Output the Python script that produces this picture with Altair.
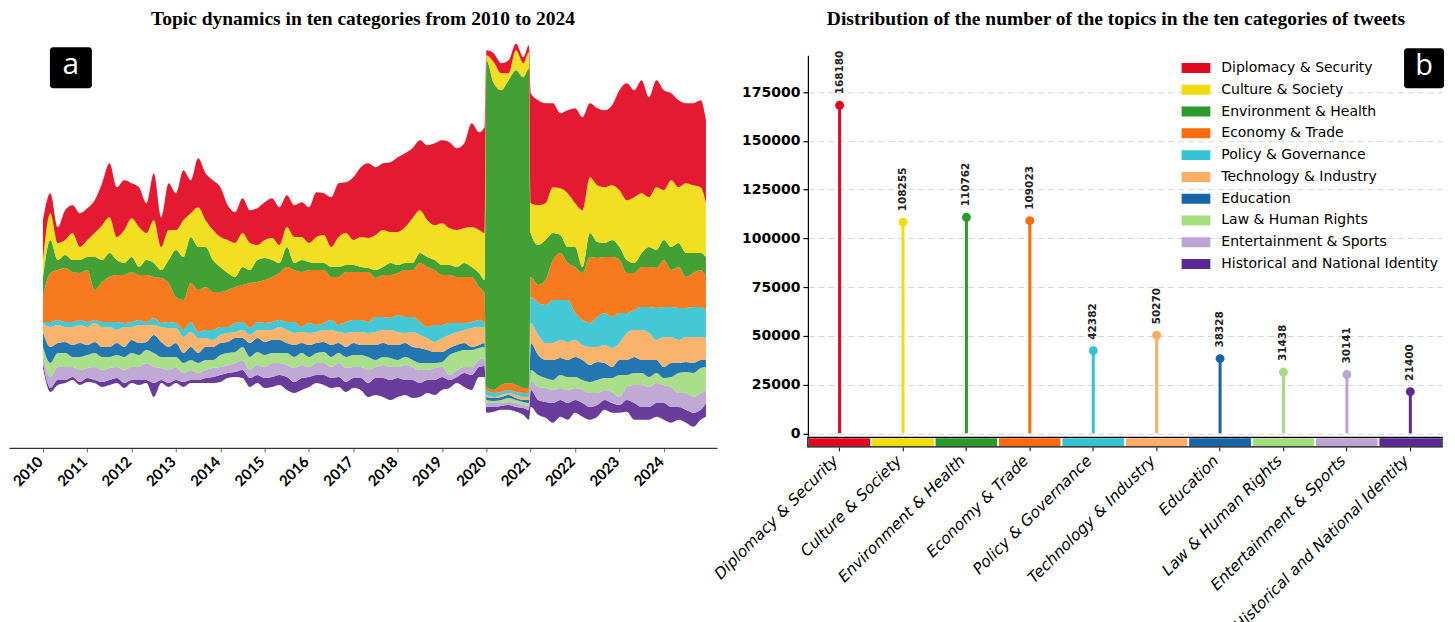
import altair as alt
import pandas as pd

# ---------------- panel (a): topic stream, bimonthly samples ----------------
YEARS = list(range(2010, 2025))
SAMPLE_MONTHS = [1, 3, 5, 7, 9, 11]

# (year, month) of every sample; two late-December samples bracket the 2020 surge
SAMPLES = [(y, m) for y in YEARS for m in SAMPLE_MONTHS]
SAMPLES.insert(SAMPLES.index((2020, 1)), (2019, 12.5))
SAMPLES.insert(SAMPLES.index((2021, 1)), (2020, 12.5))
SAMPLES.append((2024, 12.4))

# lower edge of the stream (wiggle baseline), same units as the series
STREAM_BASE = [80, 56, 63, 65, 68, 63,  66, 65, 61, 63, 65, 60,  65, 63, 65, 51, 65, 61,
               65, 61, 65, 65, 65, 65,  66, 70, 71, 70, 61, 65,  60, 61, 63, 58, 55, 58,
               61, 65, 63, 60, 61, 56,  60, 58, 51, 53, 51, 48,  51, 53, 50, 51, 55, 53,
               58, 60, 65, 61, 58, 71, 71,  35, 36, 38, 38, 36, 33, 28,
               41, 33, 30, 25, 31, 28,  35, 31, 28, 31, 38, 35,  35, 36, 28, 28, 28, 31,
               28, 25, 28, 25, 21, 28, 31]

DIPLOMACY = [40, 20, 16, 30, 28, 34,  32, 33, 42, 54, 50, 50,  35, 40, 30, 47, 30, 47,
             37, 50, 33, 49, 47, 50,  50, 35, 31, 35, 33, 37,  38, 40, 38, 32, 32, 35,
             36, 45, 42, 50, 54, 51,  63, 70, 75, 68, 67, 70,  75, 74, 70, 70, 75, 82,
             83, 86, 82, 85, 104, 98, 106,  5, 9, 10, 13, 7, 6, 7,
             110, 105, 100, 84, 75, 83,  95, 93, 74, 77, 77, 80,  100, 117, 107, 113, 100, 107,
             100, 87, 87, 80, 82, 87, 83]
CULTURE = [17, 27, 17, 15, 27, 13,  17, 24, 35, 36, 23, 33,  39, 40, 27, 43, 23, 30,
           20, 37, 24, 40, 27, 30,  30, 33, 34, 34, 27, 15,  18, 22, 18, 20, 26, 23,
           19, 26, 28, 20, 30, 32,  25, 30, 30, 35, 37, 31,  33, 36, 45, 43, 37, 35,
           42, 37, 37, 35, 40, 43, 47,  5, 21, 17, 7, 20, 14, 16,
           30, 40, 37, 46, 47, 54,  44, 57, 56, 57, 56, 55,  57, 60, 66, 60, 50, 63,
           50, 67, 56, 70, 68, 66, 54]
ENVIRONMENT = [20, 33, 10, 13, 12, 13,  13, 33, 22, 24, 15, 12,  15, 8, 15, 14, 8, 23,
               47, 43, 46, 43, 40, 32,  25, 17, 10, 18, 13, 22,  22, 17, 10, 20, 7, 12,
               8, 7, 7, 10, 10, 7,  7, 5, 4, 8, 8, 12,  8, 7, 7, 10, 10, 10,
               10, 10, 10, 14, 10, 14, 13,  327, 307, 295, 303, 315, 311, 320,
               44, 40, 40, 27, 18, 16,  20, 6, 24, 16, 14, 17,  13, 13, 10, 14, 20, 18,
               20, 23, 24, 24, 20, 17, 20]
ECONOMY = [25, 49, 50, 54, 50, 47,  52, 30, 40, 45, 47, 48,  50, 45, 47, 41, 45, 39,
           26, 30, 39, 42, 43, 38,  35, 37, 36, 37, 45, 40,  43, 45, 47, 55, 52, 55,
           53, 55, 53, 43, 48, 50,  48, 48, 50, 39, 42, 43,  42, 47, 47, 59, 60, 55,
           50, 48, 46, 46, 45, 33, 30,  3, 3, 7, 7, 7, 5, 5,
           20, 18, 25, 40, 47, 37,  46, 47, 66, 59, 56, 60,  53, 40, 37, 40, 40, 40,
           47, 37, 41, 31, 34, 37, 33]
POLICY = [1, 5, 5, 5, 5, 5,  5, 3, 5, 5, 8, 4,  5, 5, 3, 7, 4, 6,
          5, 7, 10, 6, 8, 10,  8, 6, 9, 8, 7, 8,  7, 8, 7, 8, 11, 5,
          10, 7, 7, 10, 7, 11,  12, 12, 11, 15, 13, 12,  17, 16, 15, 13, 11, 17,
          13, 12, 9, 7, 6, 7, 4,  5, 4, 3, 3, 3, 4, 4,
          26, 32, 38, 43, 40, 42,  27, 25, 24, 30, 32, 31,  30, 20, 20, 23, 26, 32,
          30, 30, 32, 29, 30, 30, 28]
TECHNOLOGY = [9, 20, 18, 15, 18, 18,  18, 19, 20, 20, 13, 20,  13, 18, 17, 10, 15, 19,
              15, 16, 15, 15, 9, 7,  8, 9, 6, 8, 8, 8,  12, 10, 13, 13, 12, 11,
              12, 11, 12, 15, 11, 14,  11, 13, 12, 13, 13, 15,  13, 10, 15, 13, 12, 10,
              14, 13, 13, 13, 19, 18, 16,  2, 1, 2, 2, 3, 3, 3,
              20, 20, 17, 17, 18, 18,  17, 15, 18, 15, 18, 19,  17, 27, 27, 30, 27, 20,
              30, 26, 23, 25, 26, 23, 22]
EDUCATION = [15, 16, 10, 11, 12, 14,  10, 11, 10, 10, 12, 10,  13, 12, 8, 18, 15, 10,
             14, 10, 13, 10, 13, 13,  12, 11, 14, 9, 14, 14,  13, 13, 13, 10, 12, 10,
             12, 10, 10, 12, 10, 10,  12, 10, 12, 15, 14, 13,  15, 14, 13, 15, 13, 11,
             10, 7, 7, 7, 3, 3, 4,  3, 3, 3, 3, 2, 2, 3,
             27, 20, 18, 20, 17, 17,  20, 20, 17, 18, 15, 11,  15, 15, 16, 13, 17, 13,
             11, 14, 10, 10, 10, 8, 7]
LAW = [8, 14, 14, 14, 10, 13,  13, 14, 13, 11, 12, 13,  14, 12, 13, 14, 11, 13,
       10, 10, 10, 10, 10, 8,  12, 12, 11, 13, 13, 13,  12, 10, 10, 12, 11, 12,
       10, 10, 11, 10, 10, 11,  12, 12, 13, 7, 8, 9,  7, 8, 7, 7, 7, 5,
       5, 20, 18, 17, 17, 12, 11,  3, 2, 3, 4, 3, 3, 3,
       10, 12, 10, 10, 13, 13,  11, 10, 11, 13, 12, 14,  22, 12, 12, 12, 10, 10,
       7, 10, 20, 21, 24, 25, 23]
ENTERTAINMENT = [8, 11, 13, 13, 10, 12,  10, 13, 12, 12, 11, 13,  13, 13, 17, 16, 12, 13,
                 13, 9, 10, 7, 8, 9,  8, 8, 9, 10, 8, 10,  11, 14, 12, 12, 14, 13,
                 10, 12, 12, 11, 14, 14,  11, 11, 13, 11, 13, 13,  11, 15, 13, 13, 10, 12,
                 10, 5, 7, 6, 8, 7, 8,  4, 4, 3, 3, 4, 3, 4,
                 10, 13, 14, 13, 12, 13,  12, 13, 14, 12, 10, 11,  8, 13, 18, 22, 20, 20,
                 18, 20, 14, 17, 16, 17, 13]
HISTORICAL = [5, 4, 5, 3, 3, 3,  4, 3, 5, 5, 5, 5,  3, 5, 3, 14, 3, 4,
              3, 5, 3, 3, 5, 6,  7, 5, 5, 8, 9, 8,  10, 10, 10, 13, 11, 12,
              10, 8, 10, 10, 10, 10,  10, 12, 14, 17, 19, 20,  19, 15, 18, 14, 13, 15,
              13, 8, 6, 14, 15, 10, 11,  6, 5, 4, 5, 5, 7, 10,
              17, 15, 16, 20, 17, 17,  13, 14, 13, 12, 10, 10,  8, 12, 17, 13, 13, 14,
              17, 16, 13, 13, 14, 10, 14]

# ---------------- panel (b): topic totals per category ----------------
CATEGORIES = ["Diplomacy & Security", "Culture & Society", "Environment & Health",
              "Economy & Trade", "Policy & Governance", "Technology & Industry",
              "Education", "Law & Human Rights", "Entertainment & Sports",
              "Historical and National Identity"]
TOTALS = [168180, 108255, 110762, 109023, 42382, 50270, 38328, 31438, 30141, 21400]
Y_TICKS = [0, 25000, 50000, 75000, 100000, 125000, 150000, 175000]

BAR_COLORS = ["#e2071f", "#f0dc0f", "#2b9a2b", "#fb6b0c", "#33c3d3",
              "#fcae66", "#1565a8", "#a3df7c", "#bca5d5", "#5a2894"]
STREAM_COLORS = ["#e31a32", "#f2df21", "#43a034", "#f77b1e", "#45c8d6",
                 "#f9b36d", "#2376b0", "#a9df88", "#c0aad5", "#693c9c"]

SERIES = [DIPLOMACY, CULTURE, ENVIRONMENT, ECONOMY, POLICY,
          TECHNOLOGY, EDUCATION, LAW, ENTERTAINMENT, HISTORICAL]

# long table for the stacked stream: invisible baseline first, then bottom -> top
LAYERS = ["baseline"] + CATEGORIES[::-1]
rows = []
for i, (yr, mo) in enumerate(SAMPLES):
    t = yr + (mo - 1) / 12
    rows.append({"t": t, "layer": "baseline", "rank": 0, "volume": STREAM_BASE[i]})
    for r, cat in enumerate(CATEGORIES[::-1], start=1):
        vals = SERIES[CATEGORIES.index(cat)]
        rows.append({"t": t, "layer": cat, "rank": r, "volume": vals[i]})
stream_df = pd.DataFrame(rows)

stream = alt.Chart(stream_df).mark_area(interpolate="monotone").encode(
    x=alt.X("t:Q",
            scale=alt.Scale(domain=[2009.234, 2025.2], nice=False, zero=False),
            axis=alt.Axis(values=YEARS, format="d", title=None, grid=False,
                          labelAngle=-45, labelAlign="right", labelBaseline="top",
                          labelFont="Lato", labelFontWeight="bold", labelFontSize=15,
                          labelColor="black", labelPadding=2, labelOffset=-8,
                          domainColor="#333333", domainWidth=1.2,
                          tickColor="#666666", tickSize=4)),
    y=alt.Y("volume:Q", stack="zero",
            scale=alt.Scale(domain=[0, 393], nice=False, zero=False), axis=None),
    color=alt.Color("layer:N", sort=LAYERS,
                    scale=alt.Scale(domain=LAYERS,
                                    range=["rgba(0,0,0,0)"] + STREAM_COLORS[::-1]),
                    legend=None),
    order=alt.Order("rank:Q", sort="ascending"),
)

tag_a = alt.Chart(pd.DataFrame({"tag": ["a"]}))
tag_a_box = tag_a.mark_rect(color="black", cornerRadius=3).encode(
    x=alt.value(41), x2=alt.value(83), y=alt.value(-8), y2=alt.value(33))
tag_a_text = tag_a.mark_text(color="white", font="Open Sans", fontSize=30,
                             align="center", baseline="middle").encode(
    x=alt.value(62), y=alt.value(10), text="tag:N")

panel_a = alt.layer(stream, tag_a_box, tag_a_text).properties(
    width=709, height=393,
    title=alt.TitleParams("Topic dynamics in ten categories from 2010 to 2024",
                          font="Liberation Serif", fontSize=19.5, fontWeight="bold",
                          color="black", anchor="middle", frame="group",
                          baseline="alphabetic", offset=1, dy=2.5),
)

# ---------------- lollipop panel ----------------
STRIP_TOP = -2050
STRIP_BOTTOM = -6900

totals_df = pd.DataFrame({"category": CATEGORIES, "total": TOTALS})
base_b = alt.Chart(totals_df)

xb = alt.X("category:N", sort=CATEGORIES,
           scale=alt.Scale(paddingInner=0, paddingOuter=0),
           axis=alt.Axis(title=None, domain=False, tickColor="black", tickSize=4,
                         labelAngle=-45, labelAlign="right", labelBaseline="top",
                         labelFont="DejaVu Sans", labelFontStyle="italic",
                         labelFontSize=15.5, labelColor="black", labelLimit=400,
                         labelPadding=2, labelOffset=-9))
yb_scale = alt.Scale(domain=[STRIP_BOTTOM, 193800], nice=False, zero=False)
yb_axis = alt.Axis(values=Y_TICKS, format="d", title=None,
                   labelFont="DejaVu Sans", labelFontSize=14, labelFontWeight="bold",
                   labelColor="black", labelPadding=3,
                   tickColor="black", tickSize=5, tickWidth=1.2,
                   domainColor="black", domainWidth=1.2,
                   grid=True, gridColor="#d4d4d4", gridDash=[6, 4], gridWidth=1)
color_scale_b = alt.Scale(domain=CATEGORIES, range=BAR_COLORS)

strip = base_b.mark_bar(stroke="white", strokeWidth=1.6).encode(
    x=xb,
    y=alt.Y(datum=STRIP_TOP, scale=yb_scale, axis=yb_axis),
    y2=alt.datum(STRIP_BOTTOM),
    color=alt.Color("category:N", sort=CATEGORIES, scale=color_scale_b,
                    legend=alt.Legend(title=None, orient="none", legendX=374, legendY=5.7,
                                      symbolType="M-1,-0.345H1V0.345H-1Z",
                                      symbolSize=841, symbolStrokeWidth=0,
                                      symbolOpacity=1, symbolOffset=0,
                                      clipHeight=14, rowPadding=7.8, padding=0,
                                      labelFont="DejaVu Sans", labelFontSize=14,
                                      labelColor="black", labelOffset=11,
                                      labelLimit=320)),
)

strip_frame = alt.Chart(pd.DataFrame({"k": [0]})).mark_rect(
    fillOpacity=0, stroke="black", strokeWidth=1.3).encode(
    x=alt.value(0), x2=alt.value(635),
    y=alt.datum(STRIP_TOP), y2=alt.datum(STRIP_BOTTOM))

color_nl = alt.Color("category:N", sort=CATEGORIES, scale=color_scale_b, legend=None)

stems = base_b.mark_rule(strokeWidth=3).encode(
    x=xb, y=alt.Y("total:Q"), y2=alt.datum(0), color=color_nl)
dots = base_b.mark_circle(size=80, opacity=1).encode(
    x=xb, y="total:Q", color=color_nl)
value_labels = base_b.mark_text(angle=270, align="left", baseline="middle", dx=11,
                                font="DejaVu Sans", fontSize=10.5, fontWeight="bold",
                                color="#222222").encode(
    x=xb, y="total:Q", text=alt.Text("total:Q", format="d"))

tag_b = alt.Chart(pd.DataFrame({"tag": ["b"]}))
tag_b_box = tag_b.mark_rect(color="black", cornerRadius=3).encode(
    x=alt.value(597), x2=alt.value(637), y=alt.value(-7), y2=alt.value(33))
tag_b_text = tag_b.mark_text(color="white", font="Open Sans", fontSize=29,
                             align="center", baseline="middle").encode(
    x=alt.value(617), y=alt.value(11), text="tag:N")

panel_b = alt.layer(strip, strip_frame, stems, dots, value_labels,
                    tag_b_box, tag_b_text).properties(
    width=635, height=392,
    title=alt.TitleParams("Distribution of the number of the topics in the ten categories of tweets",
                          font="Liberation Serif", fontSize=19.5, fontWeight="bold",
                          color="black", anchor="middle", frame="group",
                          baseline="alphabetic", offset=6, dx=-9, dy=2.5),
)

chart = alt.hconcat(panel_a, panel_b, spacing=91, bounds="flush").resolve_scale(
    x="independent", y="independent", color="independent"
).properties(
    padding={"left": 8, "top": 8, "right": 10, "bottom": 0},
    background="white",
).configure_view(stroke="transparent")

chart.save("out.html", embed_options={"renderer": "svg", "actions": False})
